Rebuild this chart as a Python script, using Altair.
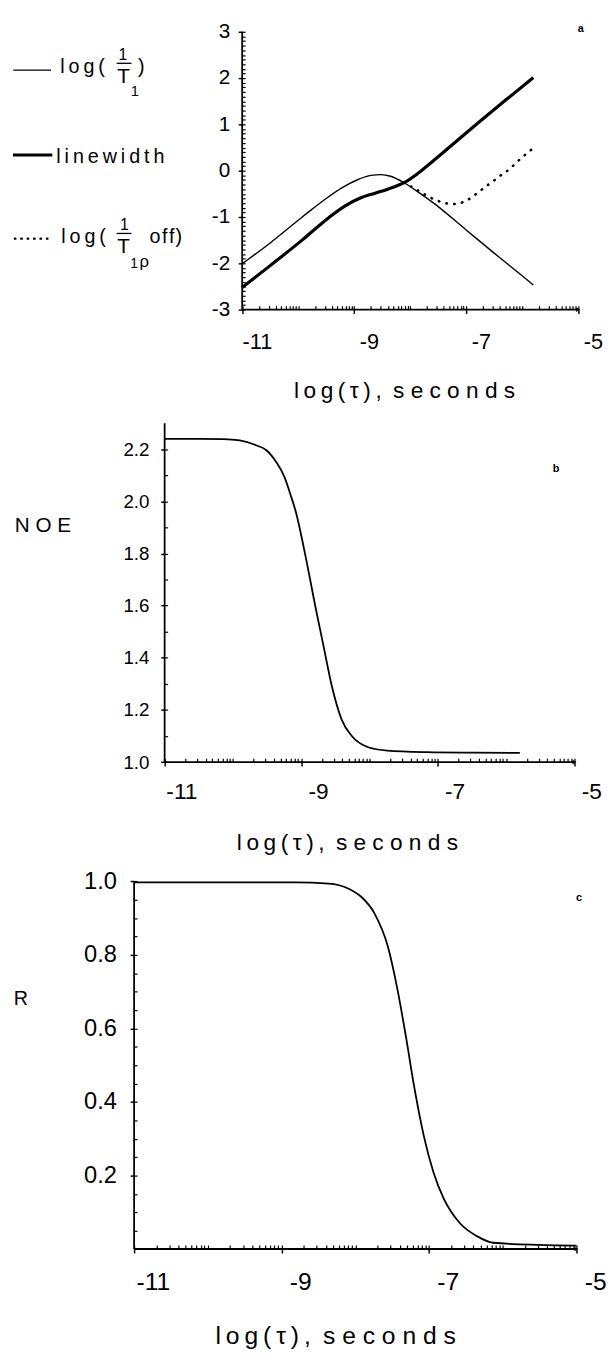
import altair as alt
import numpy as np
import pandas as pd

# ---------------- values ----------------
# panel a
a_t1_x = [-11.0, -10.5, -10.0, -9.75, -9.5, -9.22, -8.93, -8.7, -8.52, -8.35, -8.11, -7.81, -7.58, -7.0, -6.5, -6.0, -5.8]
a_t1_y = [-2.01, -1.56, -1.07, -0.83, -0.60, -0.37, -0.19, -0.10, -0.085, -0.12, -0.26, -0.50, -0.70, -1.28, -1.78, -2.27, -2.47]
a_lw_x = [-11.0, -10.5, -9.93, -9.46, -9.16, -8.87, -8.64, -8.40, -8.11, -7.81, -7.58, -7.2, -6.8, -6.3, -5.8]
a_lw_y = [-2.52, -2.05, -1.50, -1.02, -0.76, -0.58, -0.49, -0.40, -0.26, -0.01, 0.22, 0.61, 1.02, 1.52, 2.01]
a_rho_x = [-8.11, -7.87, -7.70, -7.55, -7.40, -7.26, -7.11, -6.97, -6.82, -6.67, -6.51, -6.38, -6.23, -6.09, -5.94, -5.8]
a_rho_y = [-0.26, -0.42, -0.54, -0.63, -0.69, -0.72, -0.70, -0.63, -0.50, -0.36, -0.22, -0.10, 0.03, 0.19, 0.35, 0.49]
# panel b : NOE
b_x = [-11.0, -10.5, -10.14, -9.90, -9.66, -9.51, -9.37, -9.25, -9.15, -9.08, -8.94, -8.79, -8.67, -8.55, -8.41, -8.26, -8.02, -7.74, -7.16, -6.5, -5.8]
b_y = [2.240, 2.240, 2.239, 2.234, 2.215, 2.196, 2.152, 2.096, 2.020, 1.960, 1.793, 1.592, 1.44, 1.289, 1.164, 1.10, 1.057, 1.044, 1.038, 1.036, 1.035]
# panel c : R
c_x = [-11.0, -10.0, -9.5, -8.81, -8.36, -8.09, -7.92, -7.74, -7.56, -7.43, -7.31, -7.20, -7.07, -6.94, -6.80, -6.58, -6.35, -6.13, -5.5, -5.0]
c_y = [0.997, 0.997, 0.997, 0.997, 0.994, 0.98, 0.958, 0.913, 0.824, 0.708, 0.574, 0.44, 0.307, 0.209, 0.137, 0.07, 0.035, 0.017, 0.011, 0.009]

# tick values / labels
x_major = [-11, -9, -7, -5]
x_minor = [round(n + np.log10(k), 4) for n in range(-11, -5) for k in range(1, 10)] + [-5]
a_y_major = [-3, -2, -1, 0, 1, 2, 3]
a_y_minor = [round(v, 2) for v in np.arange(-3, 3.0001, 0.1)]
b_y_major = [1.0, 1.2, 1.4, 1.6, 1.8, 2.0, 2.2]
b_y_minor = [round(v, 2) for v in np.arange(1.0, 2.2001, 0.1)]
c_y_major = [0.2, 0.4, 0.6, 0.8, 1.0]
c_y_minor = [round(v, 2) for v in np.arange(0.05, 1.0001, 0.05)]

X_TITLE = "l\u2009o\u2009g\u2009(\u2009\u03c4\u2009)\u2009,\u2002s e c o n d s"
FONT = "Liberation Sans"
LEFT, W = 8, 599


def lin(v1, p1, v2, p2, p):
    return v1 + (p - p1) * (v2 - v1) / (p2 - p1)


def build(cfg):
    top, bot = cfg["band"]
    H = bot - top
    x11, x5 = cfg["x_px"]
    (v1, p1), (v2, p2) = cfg["y_ref"]
    ylo, yhi = cfg["y_range"]
    xdom = [lin(-11, x11, -5, x5, LEFT), lin(-11, x11, -5, x5, LEFT + W)]
    ydom = [lin(v1, p1, v2, p2, bot), lin(v1, p1, v2, p2, top)]
    axis_py = p1 + (ylo - v1) * (p2 - p1) / (v2 - v1)
    xs = alt.Scale(domain=xdom, nice=False, zero=False)
    ys = alt.Scale(domain=ydom, nice=False, zero=False)

    x_main = alt.Axis(
        orient="bottom", offset=-(bot - axis_py), values=x_major,
        domain=False, grid=False, ticks=True, tickSize=4, tickWidth=1.5, tickColor="black",
        labelExpr="'-' + abs(datum.value)", labelFont=FONT, labelFontSize=cfg["xl_fs"],
        labelColor="black", labelOffset=cfg["xl_off"], labelPadding=cfg["xl_pad"],
        labelBaseline="middle", labelAlign="center", labelFlush=False, labelOverlap=False,
        title=X_TITLE, titleFont=FONT, titleFontSize=cfg["xt_fs"], titleFontWeight="normal",
        titleColor="black", titleX=cfg["xt_pos"][0] - LEFT, titleY=cfg["xt_pos"][1] - axis_py,
        titleAlign="center", titleBaseline="middle", titleAngle=0)
    ykw = dict(
        orient="left", offset=-(x11 - LEFT), values=cfg["y_major"],
        domain=False, grid=False, tickSize=4, tickWidth=1.5, tickColor="black",
        labelExpr=cfg["y_fmt"], labelFont=FONT, labelFontSize=cfg["yl_fs"], labelColor="black",
        labelPadding=cfg["yl_pad"], labelFlush=False, labelOverlap=False,
        labelBaseline="middle", labelAlign="right")
    if cfg.get("y_title"):
        ykw.update(title=cfg["y_title"], titleFont=FONT, titleFontSize=cfg["yt_fs"],
                   titleFontWeight="normal", titleColor="black",
                   titleX=cfg["yt_pos"][0] - x11, titleY=cfg["yt_pos"][1] - top,
                   titleAngle=0, titleAlign="center", titleBaseline="middle")
    else:
        ykw.update(title=None)
    y_main = alt.Axis(**ykw)
    x_min_ax = alt.Axis(orient="top", offset=-(axis_py - top), values=x_minor, domain=False,
                        grid=False, labels=False, tickSize=4, tickWidth=1.2, tickColor="black",
                        title=None)
    y_min_ax = alt.Axis(orient="right", offset=-(LEFT + W - x11), values=cfg["y_minor"],
                        domain=False, grid=False, labels=False, tickSize=3, tickWidth=1.2,
                        tickColor="black", title=None)

    layers = []
    for i, (xv, yv, style) in enumerate(cfg["series"]):
        df = pd.DataFrame({"t": xv, "v": yv})
        ax_x = x_main if i == 0 else None
        ax_y = y_main if i == 0 else None
        layers.append(
            alt.Chart(df).mark_line(color="black", interpolate="monotone", **style).encode(
                x=alt.X("t:Q", scale=xs, axis=ax_x),
                y=alt.Y("v:Q", scale=ys, axis=ax_y)))
    # axis lines
    hx = pd.DataFrame({"x": [-11], "x2": [-5], "y": [ylo]})
    layers.append(alt.Chart(hx).mark_rule(color="black", strokeWidth=1.8).encode(
        x=alt.X("x:Q", scale=xs, axis=x_min_ax), x2="x2:Q",
        y=alt.Y("y:Q", scale=ys, axis=y_min_ax)))
    vy = pd.DataFrame({"x": [-11], "y": [ylo], "y2": [yhi]})
    layers.append(alt.Chart(vy).mark_rule(color="black", strokeWidth=1.8).encode(
        x=alt.X("x:Q", scale=xs, axis=None),
        y=alt.Y("y:Q", scale=ys, axis=None), y2="y2:Q"))
    ar = pd.DataFrame({"x": [-5], "y": [ylo]})
    layers.append(alt.Chart(ar).mark_point(shape="triangle-right", filled=True, size=22,
                                           color="black", opacity=1).encode(
        x=alt.X("x:Q", scale=xs, axis=None), y=alt.Y("y:Q", scale=ys, axis=None)))
    # panel letter
    lx, ly = cfg["letter_pos"]
    layers.append(alt.Chart(pd.DataFrame({"s": [cfg["letter"]]})).mark_text(
        font=FONT, fontSize=11, fontWeight="bold", color="black", align="center",
        baseline="middle").encode(text="s:N", x=alt.value(lx - LEFT), y=alt.value(ly - top)))
    layers.extend(cfg.get("extra", []))
    return alt.layer(*layers).resolve_axis(x="independent", y="independent").properties(
        width=W, height=H)


# ---------------- legend of panel a (coordinates relative to the panel) ----------------
leg_left = pd.DataFrame({
    "s": ["l\u2009o\u2009g\u2009(", ")", "1",
          "l\u2009i\u2009n\u2009e\u2009w\u2009i\u2009d\u2009t\u2009h",
          "l\u2009o\u2009g\u2009(", "1", "\u03c1", "o\u200af\u200af", ")"],
    "px": [53, 132, 124.5, 49, 54, 124.0, 133.5, 143.5, 170],
    "py": [56, 56, 79, 147, 228.7, 253.7, 253, 228.7, 228.7],
    "fs": [20, 20, 15, 20, 20, 14, 17, 20, 20],
})
leg_center = pd.DataFrame({
    "s": ["1", "T", "1", "T"],
    "px": [116.5, 117.3, 118.0, 117.3],
    "py": [42.6, 66, 215.3, 238.7],
    "fs": [16, 21, 16, 21],
})


def text_layer(df, align):
    return alt.Chart(df).mark_text(font=FONT, color="black", align=align,
                                   baseline="alphabetic").encode(
        text="s:N",
        x=alt.X("px:Q", scale=None, axis=None),
        y=alt.Y("py:Q", scale=None, axis=None),
        size=alt.Size("fs:Q", scale=None, legend=None))


legend_layers = [
    text_layer(leg_left, "left"),
    text_layer(leg_center, "center"),
    alt.Chart(pd.DataFrame({"k": [0]})).mark_rule(color="black", strokeWidth=1.3).encode(
        x=alt.value(5.3), x2=alt.value(43.7), y=alt.value(53)),
    alt.Chart(pd.DataFrame({"k": [0]})).mark_rule(color="black", strokeWidth=3).encode(
        x=alt.value(5), x2=alt.value(45), y=alt.value(139)),
    alt.Chart(pd.DataFrame({"k": [0]})).mark_rule(color="black", strokeWidth=2.4,
                                                  strokeDash=[0.5, 6], strokeCap="round").encode(
        x=alt.value(7), x2=alt.value(45), y=alt.value(224)),
    alt.Chart(pd.DataFrame({"k": [0]})).mark_rule(color="black", strokeWidth=1.3).encode(
        x=alt.value(110.3), x2=alt.value(125.3), y=alt.value(46)),
    alt.Chart(pd.DataFrame({"k": [0]})).mark_rule(color="black", strokeWidth=1.3).encode(
        x=alt.value(110.3), x2=alt.value(125.3), y=alt.value(218.7)),
]

cfg_a = dict(
    band=(8, 405), x_px=(245.7, 586.7), y_ref=((3, 22), (-3, 304)), y_range=(-3, 3),
    series=[(a_t1_x, a_t1_y, dict(strokeWidth=1.4)),
            (a_lw_x, a_lw_y, dict(strokeWidth=3.2)),
            (a_rho_x, a_rho_y, dict(strokeWidth=2.6, strokeDash=[0.5, 7.5], strokeCap="round"))],
    y_major=a_y_major, y_minor=a_y_minor,
    y_fmt="datum.value < 0 ? '-' + abs(datum.value) : '' + datum.value",
    yl_fs=21, yl_pad=8.7, xl_fs=22, xl_off=15, xl_pad=28.7, xt_fs=23, xt_pos=(410, 386.7),
    letter="a", letter_pos=(589.3, 19), extra=legend_layers,
)
cfg_b = dict(
    band=(405, 868), x_px=(167, 583), y_ref=((2.2, 445.7), (1.0, 763.3)), y_range=(1.0, 2.3),
    series=[(b_x, b_y, dict(strokeWidth=1.8))],
    y_major=b_y_major, y_minor=b_y_minor, y_fmt="format(datum.value, '.1f')",
    yl_fs=19, yl_pad=12, xl_fs=23, xl_off=17, xl_pad=26, xt_fs=23, xt_pos=(352, 845),
    y_title="N O E", yt_fs=21, yt_pos=(43, 523.3),
    letter="b", letter_pos=(564.3, 466),
)
cfg_c = dict(
    band=(868, 1354), x_px=(136, 585), y_ref=((1.0, 884.3), (0.0, 1257.5)), y_range=(0.0, 1.0),
    series=[(c_x, c_y, dict(strokeWidth=1.8))],
    y_major=c_y_major, y_minor=c_y_minor, y_fmt="format(datum.value, '.1f')",
    yl_fs=24, yl_pad=14, xl_fs=25, xl_off=19, xl_pad=29, xt_fs=25, xt_pos=(340, 1345),
    y_title="R", yt_fs=20, yt_pos=(20.5, 1003.3),
    letter="c", letter_pos=(587.7, 901.7),
)

chart = alt.vconcat(build(cfg_a), build(cfg_b), build(cfg_c), spacing=0, bounds="flush").properties(
    padding=0).configure_view(stroke=None)

chart.save("out.html", embed_options={"renderer": "svg", "actions": False})
